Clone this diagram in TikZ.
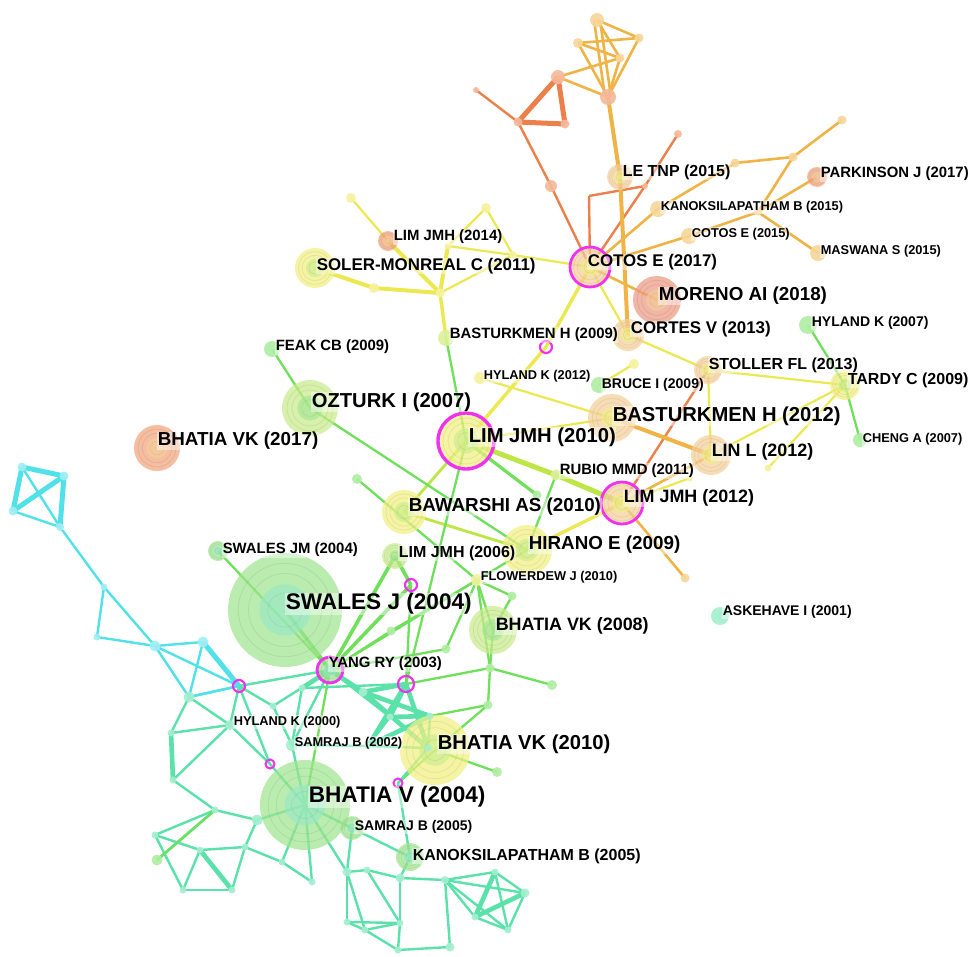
\documentclass[tikz,border=0pt]{standalone}
\usepackage{fontspec}
\setmainfont{Liberation Sans}
\definecolor{cOr}{RGB}{236,128,74}
\definecolor{cYO}{RGB}{240,180,70}
\definecolor{cY}{RGB}{236,232,80}
\definecolor{cYG}{RGB}{190,230,70}
\definecolor{cG}{RGB}{110,224,90}
\definecolor{cT}{RGB}{90,226,170}
\definecolor{cC}{RGB}{80,226,232}
\definecolor{mag}{RGB}{240,50,240}
\definecolor{nGreen}{RGB}{160,228,145}
\definecolor{nMint}{RGB}{150,232,200}
\definecolor{nYel}{RGB}{240,240,130}
\definecolor{nYG}{RGB}{200,236,140}
\definecolor{nOr}{RGB}{242,165,125}
\definecolor{nLOr}{RGB}{245,208,155}
\definecolor{nRed}{RGB}{238,155,132}
\newcommand{\ringnode}[4]{%
  \fill[#3, opacity=0.72] (#1) circle (#2);
  \draw[#3!75!black, opacity=0.22, line width=0.8] (#1) circle ({0.82*#2}) (#1) circle ({0.64*#2});
  \fill[#4, opacity=0.6] (#1) circle ({0.45*#2});
  \draw[#4!70!black, opacity=0.22, line width=0.6] (#1) circle ({0.3*#2});
}
\begin{document}
\begin{tikzpicture}[x=1pt,y=-1pt,
  eO/.style={draw=cOr, line width=2.4},
  eOt/.style={draw=cOr, line width=5},
  eYO/.style={draw=cYO, line width=2.6},
  eYOt/.style={draw=cYO, line width=4},
  eY/.style={draw=cY, line width=2.2},
  eYt/.style={draw=cY, line width=4},
  eYG/.style={draw=cYG, line width=2.8},
  eYGt/.style={draw=cYG, line width=5},
  eG/.style={draw=cG, line width=2.3},
  eGt/.style={draw=cG, line width=3.6},
  eT/.style={draw=cT, line width=2.4},
  eTt/.style={draw=cT, line width=4.6},
  eC/.style={draw=cC, line width=2.4},
  eCt/.style={draw=cC, line width=5},
  lbl/.style={anchor=west, inner sep=0.6pt, fill=white, fill opacity=0.45, text opacity=1, text=black},
  L1/.style={lbl, font=\bfseries\fontsize{22.6}{23}\selectfont},
  L2/.style={lbl, font=\bfseries\fontsize{20.2}{21}\selectfont},
  L3/.style={lbl, font=\bfseries\fontsize{18.8}{19}\selectfont},
  L3b/.style={lbl, font=\bfseries\fontsize{17.9}{18}\selectfont},
  L4/.style={lbl, font=\bfseries\fontsize{16.9}{17}\selectfont},
  L5/.style={lbl, font=\bfseries\fontsize{16}{16}\selectfont},
  L6/.style={lbl, font=\bfseries\fontsize{14.9}{15}\selectfont},
  L7/.style={lbl, font=\bfseries\fontsize{14}{14}\selectfont},
  L8/.style={lbl, font=\bfseries\fontsize{12.8}{13}\selectfont},
  magring/.style={draw=mag, line width=2.8}
]
\fill[white] (0,0) rectangle (971,956);
\useasboundingbox (0,0) rectangle (971,956);
% ---------- coordinates ----------
\coordinate (t1) at (597,20); \coordinate (t2) at (639,38); \coordinate (t3) at (578,43);
\coordinate (t4) at (620,58); \coordinate (t5) at (558,77); \coordinate (t6) at (608,97);
\coordinate (t7) at (518,122); \coordinate (t8) at (565,124); \coordinate (t0) at (476,90);
\coordinate (t9) at (551,186); \coordinate (t10) at (678,134);
\coordinate (oa) at (589,196); \coordinate (ob) at (645,186);
\coordinate (LE) at (620,177); \coordinate (COT17) at (590,267);
\coordinate (KAN15) at (658,209); \coordinate (COT15) at (689,236);
\coordinate (MAS) at (818,253); \coordinate (PAR) at (817,177);
\coordinate (na) at (735,163); \coordinate (nb) at (793,157); \coordinate (nc) at (842,120); \coordinate (nd) at (758,212);
\coordinate (MOR) at (657,300); \coordinate (COR) at (628,335); \coordinate (STO) at (708,370);
\coordinate (TAR) at (845,385); \coordinate (HYL07) at (808,325); \coordinate (CHE) at (860,440);
\coordinate (LIN) at (711,455); \coordinate (BAS12) at (612,418); \coordinate (BRU) at (599,385);
\coordinate (sy1) at (634,364); \coordinate (sy2) at (768,468); \coordinate (sy3) at (690,478);
\coordinate (LIM12) at (622,503); \coordinate (so1) at (685,578);
\coordinate (RUB) at (556,475); \coordinate (HIR) at (527,550); \coordinate (LIM10) at (466,441);
\coordinate (m1) at (546,347); \coordinate (HYL12) at (480,378); \coordinate (BAS09) at (446,338);
\coordinate (yh) at (440,293); \coordinate (ys) at (374,288); \coordinate (y1) at (351,198);
\coordinate (LIM14) at (388,241); \coordinate (y2) at (486,208); \coordinate (y3) at (513,255); \coordinate (y4) at (448,246);
\coordinate (SOL) at (315,268); \coordinate (FEAK) at (272,349); \coordinate (OZT) at (310,408);
\coordinate (BVK17) at (157,448); \coordinate (BAW) at (404,512);
\coordinate (sg1) at (357,479); \coordinate (sg2) at (537,495);
\coordinate (LIM06) at (395,556); \coordinate (SWJM) at (218,551); \coordinate (SWJ) at (285,610);
\coordinate (m2) at (411,585); \coordinate (FLO) at (477,580); \coordinate (BVK08) at (493,630);
\coordinate (ASK) at (720,616); \coordinate (YANG) at (330,670);
\coordinate (sg3) at (391,631); \coordinate (sg4) at (446,649); \coordinate (sg5) at (490,668);
\coordinate (sg6) at (552,685); \coordinate (sg7) at (488,705); \coordinate (sg8) at (512,596);
\coordinate (m3) at (406,684);
\coordinate (sA) at (363,692); \coordinate (sD) at (390,717); \coordinate (sC) at (430,716);
\coordinate (sE) at (368,746); \coordinate (sF) at (428,748);
\coordinate (BVK10) at (435,750); \coordinate (sg9) at (497,772); \coordinate (m4) at (398,783);
\coordinate (BV04) at (305,805); \coordinate (SAM05) at (352,828); \coordinate (KAN05) at (410,857);
\coordinate (HYL00) at (230,725); \coordinate (SAM02) at (292,745);
\coordinate (m5) at (239,686); \coordinate (m6) at (270,764);
\coordinate (c1) at (22,467); \coordinate (c2) at (64,476); \coordinate (c3) at (13,511); \coordinate (c4) at (60,527);
\coordinate (c5) at (104,587); \coordinate (c6) at (97,637); \coordinate (c7) at (155,646); \coordinate (c8) at (203,642);
\coordinate (c9) at (189,697); \coordinate (c10) at (273,706);
\coordinate (b1) at (171,733); \coordinate (b2) at (173,780); \coordinate (b3) at (215,810); \coordinate (b4) at (155,835);
\coordinate (b5) at (200,850); \coordinate (b6) at (183,890); \coordinate (b7) at (232,890); \coordinate (b8) at (245,847);
\coordinate (b9) at (257,820); \coordinate (b10) at (157,860); \coordinate (b11) at (282,862); \coordinate (b12) at (312,882);
\coordinate (b14) at (302,688);
\coordinate (d1) at (347,872); \coordinate (d2) at (367,870); \coordinate (d3) at (400,878); \coordinate (d4) at (445,880);
\coordinate (d5) at (347,922); \coordinate (d6) at (400,923); \coordinate (d7) at (398,950); \coordinate (d8) at (450,947);
\coordinate (d9) at (495,872); \coordinate (d10) at (525,893); \coordinate (d11) at (508,930); \coordinate (d12) at (475,917);
\coordinate (d13) at (365,930);
% ---------- edges ----------
\foreach \a/\b in {t0/t7, t7/t9, t9/COT17, oa/ob, oa/COT17, ob/COT17, ob/t10, STO/LIM12, LIM12/HIR}
  \draw[eO] (\a) -- (\b);
\foreach \a/\b in {t5/t7, t5/t8, t7/t8} \draw[eOt] (\a) -- (\b);
\foreach \a/\b in {t1/t2, t1/t4, t3/t2, t3/t4, t3/t6, t2/t6, t4/t6, t5/t4, t5/t6, COT17/KAN15, KAN15/na, na/nb, nb/nc, nb/nd, PAR/nd, nd/COT15, nd/MAS, COT15/COT17, COT17/MOR, LIM12/so1, LIM12/LIN}
  \draw[eYO] (\a) -- (\b);
\draw[eYO] ([xshift=-3]t1) -- ([xshift=-3]t6);
\draw[eYO] ([xshift=3]t1) -- ([xshift=3]t6);
\foreach \a/\b in {t6/LE, LE/COR, BAS12/LIN} \draw[eYOt] (\a) -- (\b);
\foreach \a/\b in {y1/LIM14, y4/y2, y2/y3, y4/y3, yh/y3, y3/COT17, COT17/COR, COR/STO, STO/TAR, STO/LIN, TAR/LIN, TAR/sy2, HYL12/BAS12, sy1/BRU, LIM12/RUB, LIM12/sy3, LIM10/BAS12}
  \draw[eY] (\a) -- (\b);
\foreach \a/\b in {LIM14/yh, SOL/ys, ys/yh, yh/y4} \draw[eYt] (\a) -- (\b);
\draw[draw=cY, line width=3.4] (yh) -- (BAS09);
\draw[draw=cY, line width=3.4] (COT17) -- (m1) -- (LIM10);
\draw[draw=cY, line width=3.2] (HIR) -- (LIM12);
\foreach \a/\b in {BAW/HIR, LIM10/BAW} \draw[eYG] (\a) -- (\b);
\foreach \a/\b in {LIM10/RUB, RUB/LIM12} \draw[eYGt] (\a) -- (\b);
\foreach \a/\b in {FEAK/OZT, OZT/HIR, sg1/FLO, LIM10/m3, RUB/HIR, HIR/FLO, FLO/BVK08, FLO/sg8, sg8/BVK08, YANG/sg3, sg3/FLO, YANG/FLO, SWJM/YANG, m2/m3, sg4/FLO, sg4/YANG, m3/sg5, BVK08/sg5, sg5/sg7, sg5/sg6, sg7/BVK10, BVK10/sg9, BVK10/m4, FLO/sg5, HYL07/TAR, CHE/TAR, BAS09/LIM10, YANG/BV04, sg7/sC}
  \draw[eG] (\a) -- (\b);
\draw[draw=cG, line width=3.2] (LIM10) -- (sg2);
\foreach \a/\b in {YANG/m2, LIM06/YANG, m2/LIM06, SWJ/YANG} \draw[eGt] (\a) -- (\b);
\foreach \a/\b in {YANG/m5, m5/c9, m5/HYL00, m5/m6, b14/SAM02, YANG/SAM02, HYL00/b1, b2/HYL00, c9/HYL00, m6/BV04, m6/HYL00, BV04/b9, BV04/SAM05, BV04/b12, SAM05/d1, SAM05/KAN05, KAN05/d3, d1/d2, d1/d5, d2/d3, d3/d4, d4/d9, d9/d10, d9/d12, d10/d11, d11/d12, d9/d11, d4/d10, d4/d11, d4/d12, d5/d6, d6/d7, d7/d8, d8/d4, d5/d13, d13/d6, d3/d6, d1/d13, d13/d7, d2/d6, b2/b3, b3/b4, b4/b5, b5/b6, b6/b7, b7/b8, b8/b5, b8/b9, b4/b6, b3/b9, b8/b11, b11/b12, b11/BV04, c10/YANG, c10/m5, c10/SAM02, sA/sD, sD/sE, sE/sF, sF/sC, YANG/sD, SAM02/sE, m4/KAN05, m4/sF, BV04/d1, BV04/SAM02, c9/b1, m3/b14}
  \draw[eT] (\a) -- (\b);
\foreach \a/\b in {YANG/b14, b1/b2, b5/b7, d10/d12, d9/d12, sA/m3, sA/sC, m3/sD, m3/sE, m3/sF, sD/sC, sA/sF, sC/sE, YANG/sA}
  \draw[eTt] (\a) -- (\b);
\draw[draw=cG!80!cT, line width=2.8] (b10) -- (b3);
\foreach \a/\b in {c1/c4, c3/c4, c4/c5, c5/c7, c5/c6, c6/c7, c7/c8, c7/m5, c7/c9, c8/c9, c9/m5}
  \draw[eC] (\a) -- (\b);
\foreach \a/\b in {c1/c2, c2/c3, c1/c3, c2/c4, c8/m5} \draw[eCt] (\a) -- (\b);
% ---------- big nodes ----------
\ringnode{SWJ}{57}{nGreen}{nMint}
\ringnode{BV04}{45}{nGreen}{nMint}
\ringnode{BVK10}{35}{nYel}{nYG}
\ringnode{LIM10}{28}{nYel}{nYG}
\ringnode{OZT}{28}{nYG}{nGreen}
\ringnode{BVK17}{23}{nOr}{nLOr}
\ringnode{BAW}{22}{nYel}{nYG}
\ringnode{HIR}{25}{nYel}{nYG}
\ringnode{BVK08}{24}{nYG}{nGreen}
\ringnode{LIM12}{22}{nLOr}{nYel}
\ringnode{BAS12}{24}{nLOr}{nYel}
\ringnode{LIN}{20}{nLOr}{nYel}
\ringnode{MOR}{24}{nRed}{nLOr}
\ringnode{COT17}{20}{nLOr}{nYel}
\ringnode{COR}{16}{nLOr}{nYel}
\ringnode{STO}{14}{nLOr}{nYel}
\ringnode{TAR}{15}{nYel}{nYG}
\ringnode{SOL}{20}{nYel}{nYG}
\ringnode{LIM14}{10}{nOr}{nLOr}
\ringnode{LE}{13}{nLOr}{nYel}
\ringnode{PAR}{10}{nOr}{nLOr}
\ringnode{LIM06}{13}{nYG}{nGreen}
\ringnode{SAM05}{12}{nGreen}{nMint}
\ringnode{KAN05}{14}{nGreen}{nMint}
\ringnode{YANG}{14}{nGreen}{nMint}
\ringnode{SWJM}{10}{nGreen}{nMint}
% ---------- small nodes ----------
\foreach \n/\cl/\r in {t1/cYO/7, t2/cYO/4.5, t3/cYO/5, t4/cYO/4.5, t5/cOr/7, t6/cOr/8, t7/cOr/4.5, t8/cOr/4.5, t0/cOr/3, t9/cOr/6, t10/cOr/4, ob/cOr/3, na/cYO/4.5, nb/cYO/4.5, nc/cYO/4.5, nd/cYO/3.5, KAN15/cYO/8, COT15/cYO/8, MAS/cYO/8, y1/cY/5, y2/cY/5, y3/cY/4, y4/cY/3.5, ys/cY/5, yh/cY/4.5, BAS09/cYG/8, HYL12/cY/6, sy1/cY/5, sy2/cY/3.5, sy3/cY/3.5, BRU/cG/8, HYL07/cG/9, CHE/cG/7, ASK/cT/9, RUB/cYG/5.5, FLO/cY/6, sg1/cG/5, sg2/cG/4.5, sg3/cG/4.5, sg4/cG/4.5, sg5/cG/4.5, sg6/cG/5, sg7/cG/4.5, sg8/cG/4.5, sg9/cG/5, FEAK/cG/8, so1/cYO/4.5, HYL00/cT/5, SAM02/cT/6, sA/cT/4.5, sD/cT/3.5, sC/cT/3.5, sE/cT/3.5, sF/cT/3.5, c1/cC/4.5, c2/cC/4.5, c3/cC/4.5, c4/cC/4, c5/cC/3.5, c6/cC/3.5, c7/cC/5.5, c8/cC/5.5, c9/cT/5.5, c10/cT/3.5, b1/cT/3.5, b2/cT/3.5, b3/cT/3.5, b4/cT/3.5, b5/cT/3.5, b6/cT/3.5, b7/cT/3.5, b8/cT/3.5, b9/cT/5.5, b10/cG/5.5, b11/cT/3.5, b12/cT/3.5, b14/cT/3.5, d1/cT/4.5, d2/cT/3.5, d3/cT/4.5, d4/cT/4, d5/cT/3.5, d6/cT/3.5, d7/cT/3.5, d8/cT/4.5, d9/cT/3.5, d10/cT/4.5, d11/cT/3.5, d12/cT/3.5, d13/cT/3.5}
  \fill[fill=\cl!55, opacity=0.9] (\n) circle (\r);
% ---------- magenta rings ----------
\draw[magring, line width=3.4] (LIM10) circle (28);
\draw[magring] (LIM12) circle (21);
\draw[magring] (COT17) circle (20);
\draw[magring] (YANG) circle (13);
\draw[magring, line width=2.2] (m1) circle (6);
\draw[magring, line width=2.2] (m2) circle (6);
\draw[magring, line width=2.2] (m3) circle (8);
\draw[magring, line width=2.2] (m5) circle (6);
\draw[magring, line width=2] (m6) circle (4.5);
\draw[magring, line width=2] (m4) circle (4.5);
% ---------- labels ----------
\node[L5] (lLE) at (622,172) {LE TNP (2015)};
\node[L6] (lPAR) at (820,174) {PARKINSON J (2017)};
\node[L8] (lKAN15) at (660,207) {KANOKSILAPATHAM B (2015)};
\node[L8] (lCOT15) at (691,234) {COTOS E (2015)};
\node[L8] (lMAS) at (820,251) {MASWANA S (2015)};
\node[L4] (lCOT17) at (587,262) {COTOS E (2017)};
\node[L3] (lMOR) at (658,296) {MORENO AI (2018)};
\node[L6] (lLIM14) at (393,237) {LIM JMH (2014)};
\node[L4] (lSOL) at (316,266) {SOLER-MONREAL C (2011)};
\node[L6] (lBAS09) at (449,335) {BASTURKMEN H (2009)};
\node[L4] (lCOR) at (630,329) {CORTES V (2013)};
\node[L7] (lHYL07) at (811,323) {HYLAND K (2007)};
\node[L6] (lFEAK) at (275,347) {FEAK CB (2009)};
\node[L8] (lHYL12) at (483,376) {HYLAND K (2012)};
\node[L5] (lSTO) at (708,365) {STOLLER FL (2013)};
\node[L7] (lBRU) at (601,385) {BRUCE I (2009)};
\node[L5] (lTAR) at (847,380) {TARDY C (2009)};
\node[L2] (lOZT) at (311,402) {OZTURK I (2007)};
\node[L2] (lBAS12) at (612,416) {BASTURKMEN H (2012)};
\node[L3] (lBVK17) at (157,441) {BHATIA VK (2017)};
\node[L2] (lLIM10) at (468,437) {LIM JMH (2010)};
\node[L8] (lCHE) at (862,439) {CHENG A (2007)};
\node[L3b] (lLIN) at (711,452) {LIN L (2012)};
\node[L6] (lRUB) at (559,471) {RUBIO MMD (2011)};
\node[L3b] (lLIM12) at (623,498) {LIM JMH (2012)};
\node[L3] (lBAW) at (408,507) {BAWARSHI AS (2010)};
\node[L3] (lHIR) at (528,545) {HIRANO E (2009)};
\node[L6] (lSWJM) at (222,550) {SWALES JM (2004)};
\node[L5] (lLIM06) at (398,553) {LIM JMH (2006)};
\node[L8] (lFLO) at (480,577) {FLOWERDEW J (2010)};
\node[L1] (lSWJ) at (285,604) {SWALES J (2004)};
\node[L7] (lASK) at (722,612) {ASKEHAVE I (2001)};
\node[L3b] (lBVK08) at (495,626) {BHATIA VK (2008)};
\node[L6] (lYANG) at (328,664) {YANG RY (2003)};
\node[L8] (lHYL00) at (233,722) {HYLAND K (2000)};
\node[L8] (lSAM02) at (294,743) {SAMRAJ B (2002)};
\node[L2] (lBVK10) at (437,744) {BHATIA VK (2010)};
\node[L1] (lBV04) at (308,797) {BHATIA V (2004)};
\node[L7] (lSAM05) at (354,827) {SAMRAJ B (2005)};
\node[L5] (lKAN05) at (412,856) {KANOKSILAPATHAM B (2005)};
\end{tikzpicture}
\end{document}
